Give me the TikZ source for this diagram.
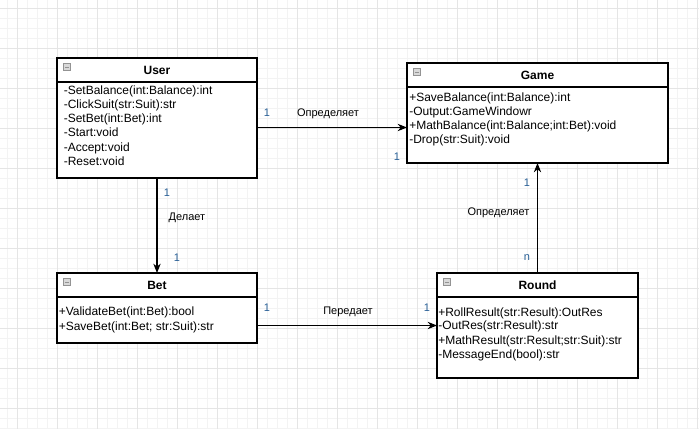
\documentclass[tikz,border=0pt]{standalone}
\usepackage{fontspec}
\setmainfont{Liberation Sans}
\usetikzlibrary{arrows.meta}
\definecolor{gridminor}{RGB}{243,243,243}
\definecolor{gridmajor}{RGB}{229,229,229}
\definecolor{numc}{RGB}{40,95,150}
\begin{document}
\begin{tikzpicture}[x=0.75pt,y=-0.75pt,
  box/.style={draw, line width=0.9pt, inner sep=0pt, outer sep=0pt, anchor=north west},
  mem/.style={anchor=base west, inner sep=0pt, font=\fontsize{9}{11}\selectfont},
  head/.style={anchor=base, inner sep=0pt, font=\bfseries\fontsize{9}{11}\selectfont},
  lab/.style={inner sep=0pt, font=\fontsize{8.25}{10}\selectfont},
  num/.style={inner sep=0pt, text=numc, font=\fontsize{8.25}{10}\selectfont},
  arr/.style={draw, line width=0.8pt, -{Stealth[length=7pt,width=5.5pt]}},
  sep/.style={line width=0.9pt},
  icon/.style={draw=gray!85, fill=gray!30, line width=0.5pt, minimum size=5.6pt, inner sep=0pt, anchor=north west,
    path picture={\draw[line width=0.8pt] ([xshift=1.2pt]path picture bounding box.west) -- ([xshift=-1.2pt]path picture bounding box.east);}}
]
\useasboundingbox (0,0) rectangle (699,429);
\fill[white] (0,0) rectangle (699,429);
% grid
\foreach \x in {7,17,...,697} \draw[gridminor, line width=0.6pt] (\x,0) -- (\x,429);
\foreach \y in {8,18,...,428} \draw[gridminor, line width=0.6pt] (0,\y) -- (699,\y);
\foreach \x in {17,57,...,697} \draw[gridmajor, line width=0.7pt] (\x,0) -- (\x,429);
\foreach \y in {8,48,...,408} \draw[gridmajor, line width=0.7pt] (0,\y) -- (699,\y);

% User
\node[box, fill=white, minimum width=150pt, minimum height=90pt] (user) at (57,58) {};
\draw[sep] (57,82) -- (257,82);
\node[icon] (uicon) at (63,63) {};
\node[head] (uhead) at (157,74.5) {User};
\node[mem] (u1) at (63.5,94.5) {-SetBalance(int:Balance):int};
\node[mem] (u2) at (63.5,108.5) {-ClickSuit(str:Suit):str};
\node[mem] (u3) at (63.5,122.7) {-SetBet(int:Bet):int};
\node[mem] (u4) at (63.5,136.7) {-Start:void};
\node[mem] (u5) at (63.5,151.5) {-Accept:void};
\node[mem] (u6) at (63.5,165) {-Reset:void};

% Game
\node[box, fill=white, minimum width=195.75pt, minimum height=75pt] (game) at (407,63) {};
\draw[sep] (407,87) -- (668,87);
\node[icon] (gicon) at (413,68) {};
\node[head] (ghead) at (537.5,79.5) {Game};
\node[mem] (g1) at (409,101) {+SaveBalance(int:Balance):int};
\node[mem] (g2) at (409,115) {-Output:GameWindowr};
\node[mem] (g3) at (409,129.5) {+MathBalance(int:Balance;int:Bet):void};
\node[mem] (g4) at (409,143.5) {-Drop(str:Suit):void};

% Bet
\node[box, fill=white, minimum width=150pt, minimum height=52.5pt] (bet) at (57,273) {};
\draw[sep] (57,297) -- (257,297);
\node[icon] (bicon) at (63,278) {};
\node[head] (bhead) at (157,289.5) {Bet};
\node[mem] (b1) at (58.5,315) {+ValidateBet(int:Bet):bool};
\node[mem] (b2) at (58.5,330) {+SaveBet(int:Bet; str:Suit):str};

% Round
\node[box, fill=white, minimum width=150.75pt, minimum height=78.75pt] (round) at (437,273) {};
\draw[sep] (437,297) -- (638,297);
\node[icon] (ricon) at (443,278) {};
\node[head] (rhead) at (537.5,289.5) {Round};
\node[mem] (r1) at (438,316) {+RollResult(str:Result):OutRes};
\node[mem] (r2) at (438,329.5) {-OutRes(str:Result):str};
\node[mem] (r3) at (438,344) {+MathResult(str:Result;str:Suit):str};
\node[mem] (r4) at (438,358) {-MessageEnd(bool):str};

% connectors
\coordinate (ug) at (0,127.5);
\draw[arr] (user.east |- ug) -- (game.west |- ug);
\draw[arr] (user.south) -- (bet.north);
\draw[arr] (bet.east |- round.west) -- (round.west);
\draw[arr] (round.north) -- (game.south);

% labels
\node[num] (n1) at (267,113) {1};
\node[lab] (l1) at (328,114) {Определяет};
\node[num] (n2) at (397,157) {1};
\node[num] (n3) at (167,193) {1};
\node[lab] (l2) at (187,218) {Делает};
\node[num] (n4) at (177,257.5) {1};
\node[num] (n5) at (267,307.5) {1};
\node[lab] (l3) at (348,311.5) {Передает};
\node[num] (n6) at (427,307.5) {1};
\node[num] (n7) at (527,183) {1};
\node[lab] (l4) at (498.5,212.5) {Определяет};
\node[num] (n8) at (527,258) {n};
\end{tikzpicture}
\end{document}
